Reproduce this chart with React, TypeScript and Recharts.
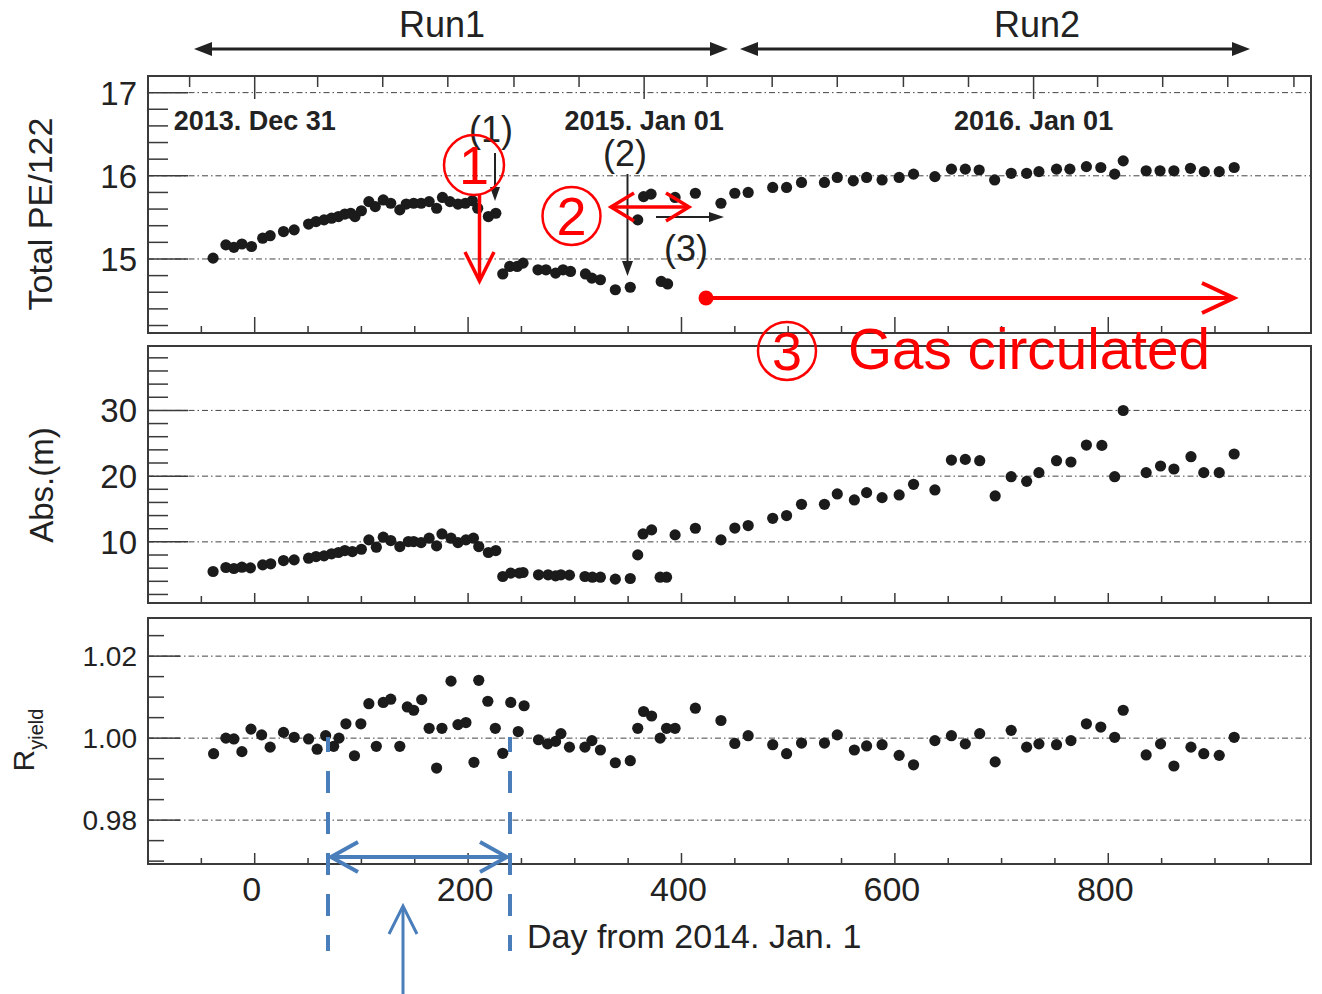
import React from "react";
import {
  ScatterChart,
  Scatter,
  XAxis,
  YAxis,
  ReferenceLine,
  ReferenceArea,
} from "recharts";

// ---- data ----
const peDays = [
  -39, -27, -19.5, -12, -3, 7.5, 14.5, 27, 37, 50.5, 57.5, 65, 72, 78.5, 84.5,
  90, 94, 100, 107, 113, 120.5, 127.5, 136, 142, 149, 156, 163.5, 170.5, 176,
  183, 190.5, 197.5, 204, 209, 219, 226, 232.5, 239, 246, 251.5, 265.5, 273,
  282, 289, 296, 310, 316, 324, 338, 352, 359, 364.5, 371.5, 381, 387, 394, 413,
  437, 450, 462.5, 485.5, 498.5, 512.5, 534, 546, 561, 573.5, 588, 604, 617.5,
  637.5, 653, 666, 679, 693.5, 709, 723.5, 735, 751.5, 764, 779.5, 793, 806,
  814, 835.5, 848.5, 861.5, 877, 890, 904, 918,
];
const peValues = [
  15.01, 15.17, 15.14, 15.18, 15.15, 15.25, 15.28, 15.33, 15.35, 15.42, 15.45,
  15.47, 15.49, 15.51, 15.54, 15.55, 15.51, 15.58, 15.69, 15.63, 15.71, 15.67,
  15.59, 15.66, 15.67, 15.67, 15.69, 15.61, 15.74, 15.69, 15.66, 15.67, 15.7,
  15.61, 15.51, 15.55, 14.82, 14.91, 14.91, 14.95, 14.87, 14.87, 14.83, 14.87,
  14.85, 14.82, 14.77, 14.75, 14.63, 14.66, 15.47, 15.75, 15.78, 14.73, 14.7,
  15.74, 15.79, 15.67, 15.79, 15.8, 15.86, 15.86, 15.92, 15.92, 15.98, 15.94,
  15.98, 15.95, 15.98, 16.02, 15.99, 16.08, 16.08, 16.07, 15.95, 16.03, 16.03,
  16.05, 16.08, 16.08, 16.11, 16.1, 16.02, 16.18, 16.06, 16.06, 16.06, 16.09,
  16.05, 16.05, 16.1,
];

const absDays = [
  -39, -27, -19.5, -12, -4, 7.5, 15, 27, 37, 50.5, 57.5, 65, 72, 78.5, 84.5,
  91.5, 100, 107, 114, 120.5, 127.5, 136, 144, 149, 156, 163.5, 170.5, 175.5,
  184, 190.5, 198, 205, 210, 219, 226, 232.5, 240, 248, 251.5, 266, 275, 282,
  287, 295, 309.5, 316.5, 324, 338, 352, 359, 364, 372, 380, 386, 394, 413, 437,
  450, 462.5, 485.5, 498.5, 512.5, 534, 546, 562, 573.5, 588, 604, 617.5, 637.5,
  653, 666, 679.5, 694, 709, 723.5, 735, 751.5, 765, 779.5, 794, 806, 814,
  835.5, 849, 861.5, 877.5, 889.5, 904, 918,
];
const absValues = [
  5.49, 6.1, 5.95, 6.15, 6.05, 6.5, 6.66, 7.16, 7.26, 7.52, 7.77, 7.87, 8.18,
  8.38, 8.68, 8.53, 8.88, 10.3, 9.19, 10.71, 10.2, 9.29, 10.05, 10.05, 9.9,
  10.56, 9.39, 11.21, 10.56, 9.9, 10.3, 10.56, 9.29, 8.38, 8.68, 4.73, 5.24,
  5.24, 5.34, 4.99, 4.99, 4.83, 4.99, 4.94, 4.73, 4.63, 4.63, 4.33, 4.43, 8.02,
  11.21, 11.82, 4.63, 4.63, 11.06, 12.07, 10.3, 12.1, 12.48, 13.59, 14.0, 15.72,
  15.72, 17.29, 16.38, 17.49, 16.73, 17.14, 18.76, 17.9, 22.45, 22.55, 22.35,
  16.99, 19.92, 19.21, 20.53, 22.35, 22.15, 24.73, 24.68, 19.92, 29.99, 20.53,
  21.54, 21.09, 22.96, 20.53, 20.53, 23.37,
];

const ryDays = [
  -38.5, -27, -19.5, -12, -3.5, 6.5, 14.5, 27, 37, 50.5, 58.5, 66.5, 74, 79,
  85.5, 93.5, 99.5, 107, 114, 120.5, 127.5, 136, 143, 149, 156.5, 163.5, 170.5,
  175.5, 184, 190.5, 198, 205.5, 210, 218.5, 225.5, 232.5, 240, 247, 252.5, 266,
  274.5, 282, 287, 295, 309.5, 316, 324, 338, 352, 359, 364.5, 372, 380, 386,
  394, 413, 437, 450, 462.5, 485.5, 498.5, 512.5, 534, 546, 562, 573.5, 588,
  604, 617.5, 637.5, 653, 666, 679.5, 694, 709, 723.5, 735, 751.5, 765, 779.5,
  793, 806, 814, 835.5, 849, 861.5, 877.5, 889.5, 904, 918,
];
const ryValues = [
  0.9962, 1.0, 0.9998, 0.9967, 1.0022, 1.0008, 0.9978, 1.0014, 1.0002, 0.9998,
  0.9973, 1.0006, 0.998, 1.0, 1.0035, 0.9957, 1.0035, 1.0084, 0.998, 1.0087,
  1.0095, 0.998, 1.0076, 1.0068, 1.0094, 1.0024, 0.9927, 1.0024, 1.0139,
  1.0033, 1.0038, 0.9941, 1.0141, 1.009, 1.0024, 0.9963, 1.0087, 1.0016,
  1.0079, 0.9996, 0.9986, 0.9992, 1.0011, 0.9978, 0.9978, 0.9994, 0.9971,
  0.994, 0.9945, 1.0024, 1.0065, 1.0054, 1.0, 1.0024, 1.0024, 1.0073, 1.0043,
  0.9987, 1.0006, 0.9984, 0.9962, 0.9988, 0.9988, 1.0008, 0.9971, 0.9981,
  0.9984, 0.9958, 0.9935, 0.9994, 1.0006, 0.9986, 1.0011, 0.9942, 1.0019,
  0.9978, 0.9986, 0.9984, 0.9994, 1.0035, 1.0027, 1.0002, 1.0068, 0.9959,
  0.9986, 0.9932, 0.9978, 0.9962, 0.9958, 1.0002,
];

// ---- axes ----
const dayTicks = [
  -50, 0, 50, 100, 150, 200, 250, 300, 350, 400, 450, 500, 550, 600, 650, 700,
  750, 800, 850, 900, 950,
];
const dayMajor = [0, 200, 400, 600, 800];
const monthTicks = [
  -61, 0, 59, 120, 181, 243, 304, 365, 424, 485, 546, 608, 669, 730, 790, 851,
  912, 974,
];
const yearTicks = [0, 365, 730];
const yearLabels = ["2013. Dec 31", "2015. Jan 01", "2016. Jan 01"];

const peTicks = [
  14.2, 14.4, 14.6, 14.8, 15, 15.2, 15.4, 15.6, 15.8, 16, 16.2, 16.4, 16.6,
  16.8, 17,
];
const peMajor = [15, 16, 17];
const absTicks = [
  2, 4, 6, 8, 10, 12, 14, 16, 18, 20, 22, 24, 26, 28, 30, 32, 34, 36, 38,
];
const absMajor = [10, 20, 30];
const ryTicks = [
  0.97, 0.975, 0.98, 0.985, 0.99, 0.995, 1.0, 1.005, 1.01, 1.015, 1.02, 1.025,
];
const ryMajor = [0.98, 1.0, 1.02];

const DAY_DOMAIN: [number, number] = [-100, 990];
const FONT = '"Liberation Sans", Arial, Helvetica, sans-serif';
const INK = "#222";
const FRAME = "#3a3a3a";
const RED = "#ff0000";
const BLUE = "#4a7ebb";
const AXIS_W = 100;

const near = (list: number[], v: number) =>
  list.some((m) => Math.abs(m - v) < 1e-6);

type PanelProps = {
  top: number;
  height: number;
  plotTop: number;
  plotBottom: number;
  days: number[];
  values: number[];
  domain: [number, number];
  yTicks: number[];
  yMajor: number[];
  yFmt: (v: number) => string;
  yFont: number;
  yLen: [number, number];
  xLen: [number, number];
  dayLabels?: boolean;
  monthAxis?: boolean;
};

function Panel(p: PanelProps) {
  const data = p.days.map((d, i) => ({ day: d, v: p.values[i] }));
  // axes need a size > 0 to be drawn; they get 1px and the margins shrink by it
  const margin = {
    top: p.plotTop - p.top - (p.monthAxis ? 1 : 0),
    bottom: p.top + p.height - p.plotBottom - 1,
    left: 148 - AXIS_W,
    right: 11,
  };
  return (
    <div style={{ position: "absolute", left: 0, top: p.top }}>
      <ScatterChart width={1322} height={p.height} margin={margin}>
        <XAxis
          xAxisId="day"
          type="number"
          dataKey="day"
          domain={DAY_DOMAIN}
          allowDataOverflow
          ticks={dayTicks}
          interval={0}
          height={1}
          tickSize={0}
          tickMargin={0}
          axisLine={false}
          tickLine={false}
          tick={(t: any) => {
            const major = near(dayMajor, t.payload.value);
            const len = major ? p.xLen[1] : p.xLen[0];
            return (
              <g>
                <line x1={t.x} x2={t.x} y1={t.y} y2={t.y - len} stroke={FRAME} strokeWidth={1.5} />
                {p.dayLabels && major && (
                  <text x={t.x - 3} y={t.y + 37} textAnchor="middle" fontSize={34} fill={INK}>
                    {t.payload.value}
                  </text>
                )}
              </g>
            );
          }}
        />
        {p.monthAxis && (
          <XAxis
            xAxisId="month"
            orientation="top"
            type="number"
            dataKey="day"
            domain={DAY_DOMAIN}
            allowDataOverflow
            ticks={monthTicks}
            interval={0}
            height={1}
            tickSize={0}
            tickMargin={0}
            axisLine={false}
            tickLine={false}
            tick={(t: any) => {
              const yr = yearTicks.indexOf(t.payload.value);
              return (
                <g>
                  <line x1={t.x} x2={t.x} y1={t.y} y2={t.y + (yr >= 0 ? 23 : 11)} stroke={FRAME} strokeWidth={1.5} />
                  {yr >= 0 && (
                    <text x={t.x} y={t.y + 54} textAnchor="middle" fontSize={27} fontWeight="bold" fill={INK}>
                      {yearLabels[yr]}
                    </text>
                  )}
                </g>
              );
            }}
          />
        )}
        <YAxis
          yAxisId="v"
          type="number"
          dataKey="v"
          domain={p.domain}
          allowDataOverflow
          ticks={p.yTicks}
          interval={0}
          width={AXIS_W}
          tickSize={0}
          tickMargin={0}
          axisLine={false}
          tickLine={false}
          tick={(t: any) => {
            const major = near(p.yMajor, t.payload.value);
            const len = major ? p.yLen[1] : p.yLen[0];
            return (
              <g>
                <line x1={t.x} x2={t.x + len} y1={t.y} y2={t.y} stroke={FRAME} strokeWidth={1.5} />
                {major && (
                  <text x={t.x - 11} y={t.y} dy="0.36em" textAnchor="end" fontSize={p.yFont} fill={INK}>
                    {p.yFmt(t.payload.value)}
                  </text>
                )}
              </g>
            );
          }}
        />
        {p.yMajor.map((m) => (
          <ReferenceLine
            key={m}
            xAxisId="day"
            yAxisId="v"
            y={m}
            stroke="#444"
            strokeWidth={1}
            strokeDasharray="6 3 1.5 3"
          />
        ))}
        <ReferenceArea
          xAxisId="day"
          yAxisId="v"
          x1={DAY_DOMAIN[0]}
          x2={DAY_DOMAIN[1]}
          y1={p.domain[0]}
          y2={p.domain[1]}
          fill="none"
          fillOpacity={0}
          stroke={FRAME}
          strokeWidth={2}
        />
        <Scatter
          xAxisId="day"
          yAxisId="v"
          data={data}
          isAnimationActive={false}
          shape={(s: any) => <circle cx={s.cx} cy={s.cy} r={5.6} fill="#1b1b1b" />}
        />
        {p.monthAxis && (
          // the month axis only carries ticks; this series links it to the data and draws nothing
          <Scatter
            xAxisId="month"
            yAxisId="v"
            data={data}
            isAnimationActive={false}
            shape={() => <g />}
          />
        )}
      </ScatterChart>
    </div>
  );
}

function Overlay() {
  return (
    <svg
      width={1322}
      height={994}
      style={{ position: "absolute", left: 0, top: 0, pointerEvents: "none" }}
    >
      {/* run ranges */}
      <text x={442} y={37} textAnchor="middle" fontSize={36} fill={INK}>Run1</text>
      <line x1={205} y1={49} x2={717} y2={49} stroke={INK} strokeWidth={3} />
      <polygon points="194,49 212,42 212,56" fill={INK} />
      <polygon points="728,49 710,42 710,56" fill={INK} />
      <text x={1037} y={37} textAnchor="middle" fontSize={36} fill={INK}>Run2</text>
      <line x1={751} y1={49} x2={1239} y2={49} stroke={INK} strokeWidth={3} />
      <polygon points="740,49 758,42 758,56" fill={INK} />
      <polygon points="1250,49 1232,42 1232,56" fill={INK} />

      {/* axis titles */}
      <text transform="translate(40,214) rotate(-90)" textAnchor="middle" dominantBaseline="central" fontSize={34} fill={INK}>
        Total PE/122
      </text>
      <text transform="translate(41,485) rotate(-90)" textAnchor="middle" dominantBaseline="central" fontSize={33} fill={INK}>
        Abs.(m)
      </text>
      <text transform="translate(34,740) rotate(-90)" textAnchor="middle" fontSize={30} fill={INK}>
        R<tspan fontSize={20} dy={9}>yield</tspan>
      </text>
      <text x={527} y={948} fontSize={34} fill={INK}>Day from 2014. Jan. 1</text>

      {/* black markers (1) (2) (3) */}
      <text x={491} y={142} textAnchor="middle" fontSize={36} fill={INK}>(1)</text>
      <line x1={495} y1={153} x2={495} y2={190} stroke={INK} strokeWidth={2} />
      <polygon points="495,201 490,187 500,187" fill={INK} />
      <text x={625} y={166} textAnchor="middle" fontSize={36} fill={INK}>(2)</text>
      <line x1={627.5} y1={174} x2={627.5} y2={263} stroke={INK} strokeWidth={2} />
      <polygon points="627.5,276 622,261 633,261" fill={INK} />
      <text x={686} y={261} textAnchor="middle" fontSize={36} fill={INK}>(3)</text>
      <line x1={656} y1={217} x2={712} y2={217} stroke={INK} strokeWidth={2} />
      <polygon points="724,217 709,212 709,222" fill={INK} />

      {/* red notes */}
      <circle cx={474} cy={165} r={30} fill="none" stroke={RED} strokeWidth={2.5} />
      <text x={474} y={165} dy="0.36em" textAnchor="middle" fontSize={54} fill={RED}>1</text>
      <line x1={479.5} y1={195} x2={479.5} y2={280} stroke={RED} strokeWidth={3.5} />
      <polyline points="465,252 479.5,281 494,252" fill="none" stroke={RED} strokeWidth={3.5} />

      <circle cx={571.5} cy={216} r={29} fill="none" stroke={RED} strokeWidth={2.5} />
      <text x={571.5} y={216} dy="0.36em" textAnchor="middle" fontSize={54} fill={RED}>2</text>
      <line x1={612} y1={207} x2={688} y2={207} stroke={RED} strokeWidth={3.5} />
      <polyline points="634,193 611,207 634,221" fill="none" stroke={RED} strokeWidth={3.5} />
      <polyline points="666,193 689,207 666,221" fill="none" stroke={RED} strokeWidth={3.5} />

      <circle cx={706} cy={298} r={7.5} fill={RED} />
      <line x1={706} y1={298} x2={1232} y2={298} stroke={RED} strokeWidth={4} />
      <polyline points="1202,283 1234,298 1202,313" fill="none" stroke={RED} strokeWidth={4} />
      <circle cx={787} cy={351} r={29} fill="none" stroke={RED} strokeWidth={2.5} />
      <text x={787} y={351} dy="0.36em" textAnchor="middle" fontSize={54} fill={RED}>3</text>
      <text x={848} y={369} fontSize={58} fill={RED} textLength={362} lengthAdjust="spacingAndGlyphs">
        Gas circulated
      </text>

      {/* blue notes */}
      <line x1={328} y1={737} x2={328} y2={951} stroke={BLUE} strokeWidth={4} strokeDasharray="22 19" strokeDashoffset={7} />
      <line x1={510} y1={737} x2={510} y2={951} stroke={BLUE} strokeWidth={4} strokeDasharray="22 19" strokeDashoffset={7} />
      <line x1={331} y1={857} x2={507} y2={857} stroke={BLUE} strokeWidth={4} />
      <polyline points="358,842 331,857 358,872" fill="none" stroke={BLUE} strokeWidth={4} />
      <polyline points="480,842 507,857 480,872" fill="none" stroke={BLUE} strokeWidth={4} />
      <line x1={403} y1={994} x2={403} y2={907} stroke={BLUE} strokeWidth={3} />
      <polyline points="389,934 403,906 417,934" fill="none" stroke={BLUE} strokeWidth={3} />
    </svg>
  );
}

export default function App() {
  return (
    <div
      style={{
        position: "absolute",
        left: 0,
        top: 0,
        width: 1322,
        height: 994,
        background: "#fff",
        fontFamily: FONT,
      }}
    >
      <Panel
        top={0}
        height={345}
        plotTop={76}
        plotBottom={333}
        days={peDays}
        values={peValues}
        domain={[14.11, 17.2]}
        yTicks={peTicks}
        yMajor={peMajor}
        yFmt={(v) => String(v)}
        yFont={33}
        yLen={[20, 40]}
        xLen={[7, 16]}
        monthAxis
      />
      <Panel
        top={340}
        height={270}
        plotTop={346}
        plotBottom={603}
        days={absDays}
        values={absValues}
        domain={[0.7, 39.8]}
        yTicks={absTicks}
        yMajor={absMajor}
        yFmt={(v) => String(v)}
        yFont={33}
        yLen={[20, 40]}
        xLen={[7, 10]}
      />
      <Panel
        top={610}
        height={384}
        plotTop={618}
        plotBottom={864}
        days={ryDays}
        values={ryValues}
        domain={[0.9693, 1.0293]}
        yTicks={ryTicks}
        yMajor={ryMajor}
        yFmt={(v) => v.toFixed(2)}
        yFont={28}
        yLen={[16, 32]}
        xLen={[6, 11]}
        dayLabels
      />
      <Overlay />
    </div>
  );
}
